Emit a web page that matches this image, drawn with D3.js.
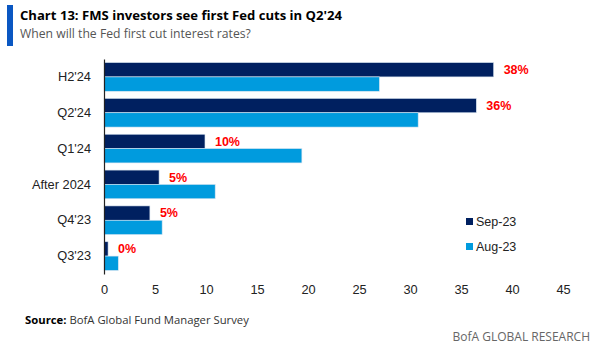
<!DOCTYPE html>
<html><head><meta charset="utf-8">
<script src="https://cdn.jsdelivr.net/npm/d3@7"></script>
<style>body{margin:0;background:#fff}svg{display:block}</style>
</head><body>
<svg id="c" width="600" height="358"></svg>
<script>
const categories = ["H2'24","Q2'24","Q1'24","After 2024","Q4'23","Q3'23"];
const sep23 = [38.2, 36.5, 9.9, 5.4, 4.5, 0.4];
const aug23 = [27.0, 30.8, 19.4, 10.9, 5.7, 1.4];
const sepLabels = ["38%","36%","10%","5%","5%","0%"];
const xTicks = [0,5,10,15,20,25,30,35,40,45];
const seriesNames = ["Sep-23","Aug-23"];
const colors = ["#002060","#009BDE"];

const svg = d3.select("#c");
const x = d3.scaleLinear().domain([0,45]).range([104,563]);
const y = d3.scaleBand().domain(categories).range([59,274]).paddingInner(0.2).paddingOuter(0.1);
const sub = d3.scaleBand().domain(seriesNames).range([0,y.bandwidth()]);

// header
svg.append("rect").attr("x",7).attr("y",5).attr("width",6).attr("height",41).attr("fill","#0A57C2");
svg.append("text").attr("x",20).attr("y",19.5).attr("font-family","Open Sans").attr("font-weight","bold")
  .attr("font-size",13.1).attr("fill","#000").text("Chart 13: FMS investors see first Fed cuts in Q2'24");
svg.append("text").attr("x",20).attr("y",38).attr("font-family","Open Sans")
  .attr("font-size",12.2).attr("fill","#555").text("When will the Fed first cut interest rates?");

// bars
const data = [sep23, aug23];
const g = svg.append("g");
seriesNames.forEach((s,si)=>{
  g.selectAll(".b"+si).data(categories).enter().append("rect")
    .attr("x",x(0)).attr("y",c=>y(c)+sub(s))
    .attr("width",(c,i)=>x(data[si][i])-x(0)).attr("height",sub.bandwidth())
    .attr("fill",colors[si]).attr("stroke","#d8e4f0").attr("stroke-width",0.6);
});
// labels
g.selectAll(".lab").data(categories).enter().append("text")
  .attr("x",(c,i)=>x(sep23[i])+10).attr("y",c=>y(c)+sub("Sep-23")+sub.bandwidth()/2)
  .attr("dy","0.35em").attr("font-family","Liberation Sans").attr("font-weight","bold")
  .attr("font-size",12.5).attr("fill","#FF0000").text((c,i)=>sepLabels[i]);

// y axis
const ya = svg.append("g").attr("transform",`translate(${x(0)},0)`)
  .call(d3.axisLeft(y).tickSize(0).tickPadding(13));
ya.select(".domain").attr("stroke","#222").attr("stroke-width",1.2);
ya.selectAll("text").attr("font-family","Liberation Sans").attr("font-size",12.8).attr("fill","#222");

// x axis
const xa = svg.append("g").attr("transform","translate(0,282)")
  .call(d3.axisBottom(x).tickValues(xTicks).tickSize(0).tickPadding(3));
xa.select(".domain").remove();
xa.selectAll("text").attr("font-family","Liberation Sans").attr("font-size",12.8).attr("fill","#222");

// legend
const lg = svg.append("g");
seriesNames.forEach((s,i)=>{
  const cy = 221.5 + i*25;
  lg.append("rect").attr("x",466).attr("y",cy-3.5).attr("width",7).attr("height",7).attr("fill",colors[i]);
  lg.append("text").attr("x",476).attr("y",cy).attr("dy","0.35em").attr("font-family","Liberation Sans")
    .attr("font-size",12.5).attr("fill","#222").text(s);
});

// footer
const src = svg.append("text").attr("x",25).attr("y",324).attr("font-family","Open Sans").attr("font-size",11.3).attr("fill","#333");
src.append("tspan").attr("font-weight","bold").attr("fill","#000").text("Source:");
src.append("tspan").text(" BofA Global Fund Manager Survey");
svg.append("text").attr("x",590).attr("y",341).attr("text-anchor","end").attr("font-family","Open Sans")
  .attr("font-size",12).attr("fill","#666").text("BofA GLOBAL RESEARCH");
</script>
</body></html>
